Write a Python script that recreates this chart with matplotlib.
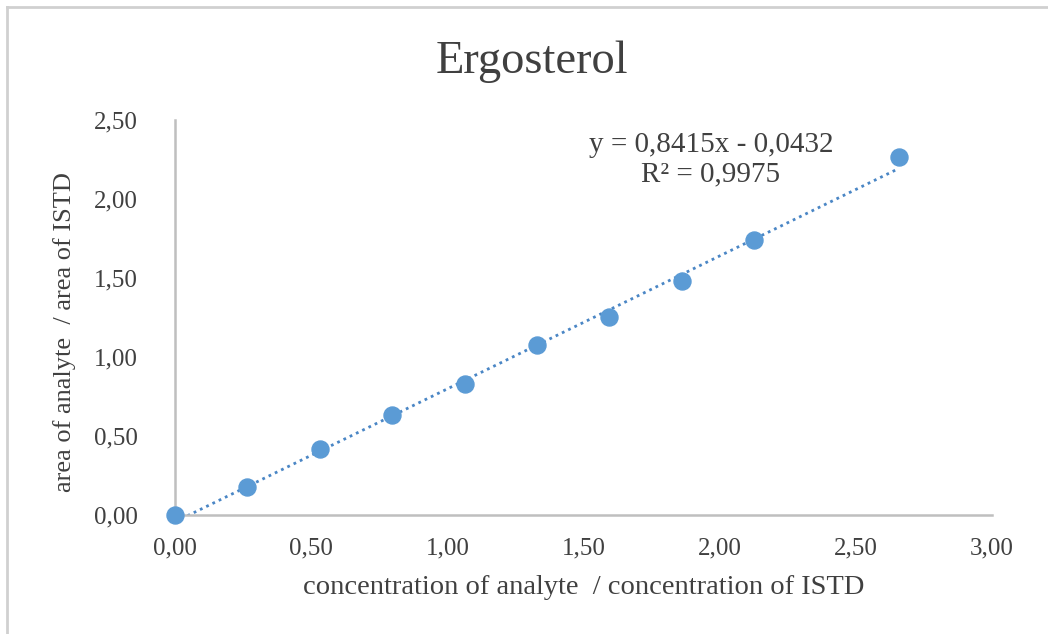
import numpy as np
import matplotlib.pyplot as plt
from matplotlib.lines import Line2D

plt.rcParams['font.family'] = ['Liberation Serif', 'DejaVu Serif']

# calibration data
conc_ratio = [0.000, 0.266, 0.532, 0.797, 1.063, 1.329, 1.595, 1.860, 2.126, 2.658]
area_ratio = [0.000, 0.177, 0.418, 0.633, 0.829, 1.076, 1.253, 1.481, 1.741, 2.266]
slope = 0.8415
intercept = -0.0432
r2 = 0.9975

blue = '#5B9BD5'
grey = '#BFBFBF'
txt = '#404040'

fig = plt.figure(figsize=(10.48, 6.34), dpi=100)
ax = fig.add_axes([0.167, 0.1877, 0.7796, 0.623])

# outer chart frame (only top and left visible in the crop)
fig.add_artist(Line2D([7 / 1048, 7 / 1048], [0, 1 - 7 / 634], transform=fig.transFigure, color='#D0D0D0', lw=2))
fig.add_artist(Line2D([7 / 1048, 1], [1 - 7 / 634, 1 - 7 / 634], transform=fig.transFigure, color='#D0D0D0', lw=2))

# linear trendline
xt = np.array([min(conc_ratio), max(conc_ratio)])
ax.plot(xt, slope * xt + intercept, linestyle=(0, (1, 1.5)), color='#4A86C5', lw=2.0, zorder=2)
ax.scatter(conc_ratio, area_ratio, s=150, color=blue, zorder=3, clip_on=False)

ax.set_xlim(0, 3)
ax.set_ylim(0, 2.5)
ax.set_xticks(np.arange(0, 3.01, 0.5))
ax.set_yticks(np.arange(0, 2.51, 0.5))
fmt = lambda v: f'{v:.2f}'.replace('.', ',')
ax.set_xticklabels([fmt(v) for v in ax.get_xticks()])
ax.set_yticklabels([fmt(v) for v in ax.get_yticks()])
ax.tick_params(length=0, labelsize=18, colors=txt)
ax.tick_params(axis='x', pad=16)
ax.tick_params(axis='y', pad=27)

for s in ['top', 'right']:
    ax.spines[s].set_visible(False)
for s in ['left', 'bottom']:
    ax.spines[s].set_color(grey)
    ax.spines[s].set_linewidth(1.8)

ax.set_xlabel('concentration of analyte  / concentration of ISTD', fontsize=20.5, color=txt)
ax.set_ylabel('area of analyte  / area of ISTD', fontsize=19, color=txt)
ax.xaxis.set_label_coords(584 / 1048, 1 - 587 / 634, transform=fig.transFigure)
ax.yaxis.set_label_coords(65 / 1048, 1 - 332 / 634, transform=fig.transFigure)
ax.xaxis.label.set_va('center')
ax.yaxis.label.set_va('center')
fig.text(532 / 1048, 1 - 62 / 634, 'Ergosterol', ha='center', va='center', fontsize=33.5, color=txt)

eq = f'y = {slope:.4f}x - {abs(intercept):.4f}'.replace('.', ',')
r2txt = f'R² = {r2:.4f}'.replace('.', ',')
fig.text(711 / 1048, 1 - 160 / 634, eq + '\n' + r2txt, ha='center', va='center', fontsize=21,
         color=txt, linespacing=1.15)

fig.savefig('out.png', dpi=100, facecolor='white')
